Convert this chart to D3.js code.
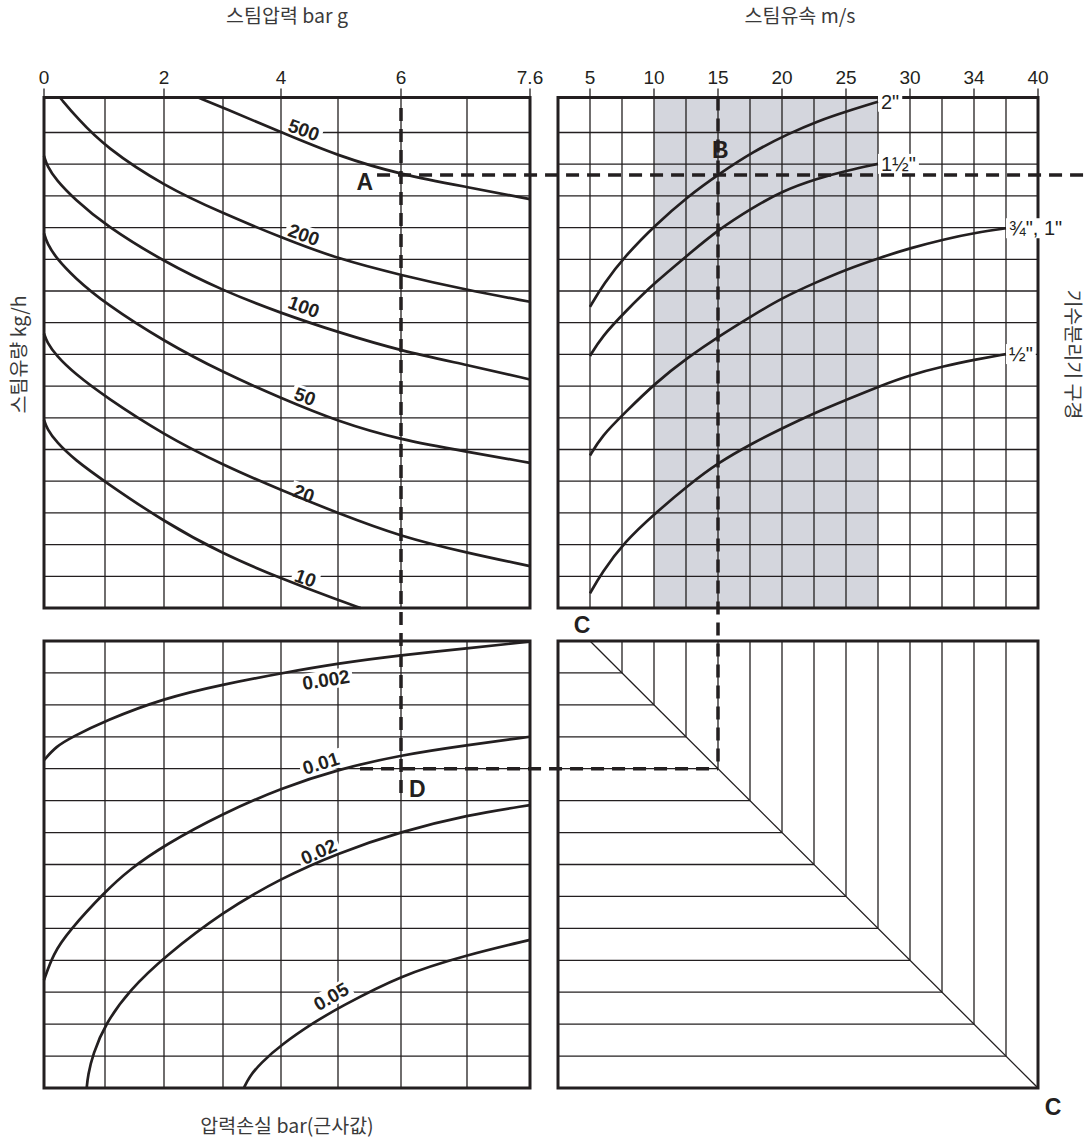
<!DOCTYPE html>
<html>
<head>
<meta charset="utf-8">
<script src="https://cdn.jsdelivr.net/npm/d3@7"></script>
<style>
  body { margin: 0; background: #fff; }
  svg { display: block; }
  text { font-family: "Liberation Sans", Arial, sans-serif; fill: #231f20; }
  .kr { font-family: "Noto Sans CJK KR", "Liberation Sans", sans-serif; fill: #3a3a3a; font-size: 19.5px; }
</style>
</head>
<body>
<div id="chart"></div>
<script>
// ---------------- data ----------------
// axis ticks
const pressureTicks = [0, 2, 4, 6, 7.6];          // bar g
const pressureGrid = [1, 2, 3, 4, 5, 6, 7];
const velocityTicks = [5, 10, 15, 20, 25, 30, 34, 40]; // m/s

// steam flow curves (kg/h): points are [pressure bar g, grid row from top]
const flowNames = ["500", "200", "100", "50", "20", "10"];
const flow500 = [[2.58, 0], [3, 0.29], [4, 0.99], [5, 1.74], [6, 2.33], [7, 2.72], [7.6, 3.1]];
const flow200 = [[0.26, 0], [0.55, 0.6], [1, 1.45], [2, 2.69], [3, 3.55], [4, 4.31], [5, 4.99], [6, 5.5], [7, 5.97], [7.6, 6.34]];
const flow100 = [[0, 1.74], [0.05, 2.05], [0.2, 2.5], [0.5, 3.1], [1, 3.92], [2, 5.08], [3, 5.99], [4, 6.7], [5, 7.3], [6, 7.89], [7, 8.33], [7.6, 8.79]];
const flow50 = [[0, 4.18], [0.05, 4.5], [0.2, 4.96], [0.5, 5.58], [1, 6.39], [2, 7.59], [3, 8.57], [4, 9.38], [5, 10.12], [6, 10.7], [7, 11.07], [7.6, 11.42]];
const flow20 = [[0, 7.34], [0.05, 7.62], [0.2, 8.04], [0.5, 8.6], [1, 9.33], [2, 10.54], [3, 11.49], [4, 12.28], [5, 13.01], [6, 13.75], [7, 14.26], [7.6, 14.68]];
const flow10 = [[0, 10.07], [0.05, 10.35], [0.2, 10.76], [0.5, 11.32], [1, 12.02], [2, 13.28], [3, 14.3], [4, 15.07], [5, 15.75], [5.36, 16]];
const flowCurves = [flow500, flow200, flow100, flow50, flow20, flow10];
const flowLabelAt = [[4.4, 0.93], [4.4, 4.23], [4.4, 6.5], [4.42, 9.33], [4.4, 12.39], [4.43, 15.06]];

// separator sizes: points are [velocity m/s, grid row from top]
const pipeNames = ['2"', '1½"', '¾", 1"', '½"'];
const pipe2 = [[5, 6.5], [6.05, 5.78], [7.8, 4.87], [10.1, 3.92], [12.7, 3.0], [15, 2.33], [17.75, 1.6], [20.5, 1.04], [22.75, 0.68], [25.1, 0.39], [27.5, 0.12]];
const pipe15 = [[5, 8.05], [5.9, 7.45], [7.8, 6.63], [10.1, 5.72], [12.7, 4.85], [15, 4.07], [17.75, 3.36], [20, 2.85], [22.75, 2.45], [25.1, 2.2], [27.5, 1.99]];
const pipe1 = [[5, 11.19], [5.9, 10.58], [7.7, 9.85], [10.1, 8.9], [12.7, 8.08], [15, 7.45], [17.75, 6.76], [20, 6.22], [22.75, 5.71], [25.1, 5.31], [27.5, 4.97], [30, 4.65], [32.1, 4.37], [34.2, 4.16], [37, 4.02]];
const pipeHalf = [[5, 15.54], [5.9, 14.9], [7.7, 13.91], [10.1, 13.01], [12.7, 12.12], [15, 11.42], [17.75, 10.79], [20, 10.33], [22.75, 9.81], [25.1, 9.42], [27.5, 9.02], [30, 8.65], [32.1, 8.37], [34.2, 8.16], [37, 7.99]];
const pipeCurves = [pipe2, pipe15, pipe1, pipeHalf];
const shadeVelocity = [10, 27.5];

// pressure drop curves (bar): points are [pressure bar g, grid row from top of lower panel]
const dropNames = ["0.002", "0.01", "0.02", "0.05"];
const drop002 = [[0, 3.73], [0.2, 3.3], [0.45, 3.02], [1, 2.5], [2, 1.79], [3, 1.36], [4, 1.01], [5, 0.7], [6, 0.44], [7, 0.23], [7.6, 0.02]];
const drop01 = [[0, 10.62], [0.15, 9.8], [0.4, 9.1], [1, 7.85], [1.42, 7.15], [2, 6.4], [3, 5.4], [4, 4.61], [5, 4.02], [6, 3.57], [7, 3.26], [7.6, 3.0]];
const drop02 = [[0.7, 14], [0.72, 13.6], [0.8, 12.95], [1, 12.0], [1.42, 10.93], [2, 9.9], [3, 8.48], [4, 7.43], [5, 6.64], [6, 5.97], [7, 5.45], [7.6, 5.14]];
const drop05 = [[3.36, 14], [3.45, 13.65], [3.65, 13.22], [4, 12.65], [4.6, 11.92], [5, 11.5], [6, 10.46], [7, 9.83], [7.6, 9.36]];
const dropCurves = [drop002, drop01, drop02, drop05];
const dropLabelAt = [[4.79, 1.22], [4.7, 3.83], [4.66, 6.6], [4.88, 11.14]];
const dropLabelAngle = [-9, -17, -24, -30];

// worked example: 6 bar g, 500 kg/h -> 2" at 15 m/s
const examplePressure = 6;
const exampleRow = 2.34;
const exampleVelocity = 15;
const exampleDropRow = 4;

// ---------------- chart ----------------
const W = 1087, H = 1140;
const svg = d3.select("#chart").append("svg").attr("width", W).attr("height", H);

const x = d3.scaleLinear().domain([0, 1, 2, 3, 4, 5, 6, 7, 7.6])
  .range([44, 105, 164, 223, 281, 338, 401, 467, 530]);
const velCol = d3.scaleLinear().domain([2.5, 5, 10, 15, 20, 25, 30, 34, 40])
  .range([0, 1, 3, 5, 7, 9, 11, 13, 15]);
const colX = d3.scaleLinear().domain([0, 15]).range([558, 1038]);
const xv = v => colX(velCol(v));
const yT = d3.scaleLinear().domain([0, 1, 16]).range([97.5, 132.5, 608]);
const yB = d3.scaleLinear().domain([0, 14]).range([641, 1088]);

const gShade = svg.append("g"),
  gGrid = svg.append("g"),
  gBorder = svg.append("g"),
  gBg = svg.append("g"),
  gCurve = svg.append("g"),
  gDash = svg.append("g"),
  gText = svg.append("g");

function drawSegs(layer, segs, width, dash) {
  layer.append("g").selectAll("line").data(segs).join("line")
    .attr("x1", d => d[0]).attr("y1", d => d[1])
    .attr("x2", d => d[2]).attr("y2", d => d[3])
    .attr("stroke", "#231f20")
    .attr("stroke-width", width)
    .attr("stroke-dasharray", dash || null);
}

// text with optional white knock-out behind it
function label(txt, px, py, angle, size, opts) {
  opts = opts || {};
  const tr = `translate(${px},${py}) rotate(${angle})`;
  const t = gText.append("text")
    .attr("transform", tr)
    .attr("text-anchor", opts.anchor || "middle")
    .attr("dominant-baseline", opts.baseline || "central")
    .style("font-size", size + "px")
    .style("font-weight", opts.weight || "normal")
    .text(txt);
  if (opts.knock) {
    const b = t.node().getBBox();
    gBg.append("rect").attr("transform", tr)
      .attr("x", b.x - 3).attr("y", b.y + 1)
      .attr("width", b.width + 6).attr("height", b.height - 2)
      .attr("fill", "#fff");
  }
  return t;
}

// shaded recommended velocity band
gShade.append("rect")
  .attr("x", xv(shadeVelocity[0])).attr("y", yT(0))
  .attr("width", xv(shadeVelocity[1]) - xv(shadeVelocity[0]))
  .attr("height", yT(16) - yT(0))
  .attr("fill", "#d4d6dd");

// grid
const grid = [];
pressureGrid.forEach(p => {
  grid.push([x(p), yT(0), x(p), yT(16)]);
  grid.push([x(p), yB(0), x(p), yB(14)]);
});
d3.range(1, 16).forEach(r => {
  grid.push([x(0), yT(r), x(7.6), yT(r)]);
  grid.push([colX(0), yT(r), colX(15), yT(r)]);
});
d3.range(1, 15).forEach(c => grid.push([colX(c), yT(0), colX(c), yT(16)]));
d3.range(1, 14).forEach(r => {
  grid.push([x(0), yB(r), x(7.6), yB(r)]);
  grid.push([colX(0), yB(r), colX(r + 1), yB(r)]);
});
d3.range(2, 15).forEach(c => grid.push([colX(c), yB(0), colX(c), yB(c - 1)]));
grid.push([colX(1), yB(0), colX(15), yB(14)]);
drawSegs(gGrid, grid, 1.3);

// ticks
const ticks = pressureTicks.map(p => [x(p), yT(0) - 9, x(p), yT(0)])
  .concat(velocityTicks.map(v => [xv(v), yT(0) - 9, xv(v), yT(0)]));
drawSegs(gGrid, ticks, 1.3);

// panel borders
const panels = [
  [x(0), yT(0), x(7.6), yT(16)],
  [colX(0), yT(0), colX(15), yT(16)],
  [x(0), yB(0), x(7.6), yB(14)],
  [colX(0), yB(0), colX(15), yB(14)]
];
gBorder.selectAll("rect").data(panels).join("rect")
  .attr("x", d => d[0]).attr("y", d => d[1])
  .attr("width", d => d[2] - d[0]).attr("height", d => d[3] - d[1])
  .attr("fill", "none").attr("stroke", "#231f20").attr("stroke-width", 3);

// curves
const smooth = d3.curveBasis;
const lineTop = d3.line().x(d => x(d[0])).y(d => yT(d[1])).curve(smooth);
const linePipe = d3.line().x(d => xv(d[0])).y(d => yT(d[1])).curve(smooth);
const lineBot = d3.line().x(d => x(d[0])).y(d => yB(d[1])).curve(smooth);

function drawCurves(data, gen) {
  gCurve.append("g").selectAll("path").data(data).join("path")
    .attr("d", gen).attr("fill", "none")
    .attr("stroke", "#231f20").attr("stroke-width", 2.7);
}
drawCurves(flowCurves, lineTop);
drawCurves(pipeCurves, linePipe);
drawCurves(dropCurves, lineBot);

// curve labels
flowNames.forEach((n, i) => {
  const a = flowLabelAt[i];
  label(n, x(a[0]), yT(a[1]), 20, 19, { weight: "bold", knock: true });
});
dropNames.forEach((n, i) => {
  const a = dropLabelAt[i];
  label(n, x(a[0]), yB(a[1]), dropLabelAngle[i], 19, { weight: "bold", knock: true });
});
pipeNames.forEach((n, i) => {
  const end = pipeCurves[i][pipeCurves[i].length - 1];
  label(n, xv(end[0]) + 3, yT(end[1]), 0, 20, { anchor: "start", knock: true });
});

// dashed construction lines
const dashes = [
  [x(examplePressure), yT(0.3), x(examplePressure), yB(5)],
  [x(5.62), yT(exampleRow), W, yT(exampleRow)],
  [xv(exampleVelocity), yT(0), xv(exampleVelocity), yB(exampleDropRow)],
  [x(5.35), yB(exampleDropRow), xv(exampleVelocity), yB(exampleDropRow)]
];
drawSegs(gDash, dashes, 3.5, "13,8");

// point letters
const letter = { weight: "bold", baseline: "auto" };
label("A", x(examplePressure) - 28, yT(exampleRow) + 15, 0, 23, Object.assign({ anchor: "end" }, letter));
label("B", xv(exampleVelocity) - 6, yT(exampleRow) - 17, 0, 23, Object.assign({ anchor: "start" }, letter));
label("D", x(examplePressure) + 8, yB(exampleDropRow) + 28, 0, 23, Object.assign({ anchor: "start" }, letter));
label("C", colX(1) - 8, yB(0) - 8, 0, 23, letter);
label("C", colX(15) + 15, yB(14) + 27, 0, 23, letter);

// tick labels
pressureTicks.forEach(p => label(String(p), x(p), yT(0) - 14, 0, 19, { baseline: "auto" }));
velocityTicks.forEach(v => label(String(v), xv(v), yT(0) - 14, 0, 19, { baseline: "auto" }));

// axis titles
gText.append("text").attr("class", "kr").attr("x", (x(0) + x(7.6)) / 2).attr("y", 23)
  .attr("text-anchor", "middle").text("스팀압력 bar g");
gText.append("text").attr("class", "kr").attr("x", xv(20) + 18).attr("y", 23)
  .attr("text-anchor", "middle").text("스팀유속 m/s");
gText.append("text").attr("class", "kr")
  .attr("transform", `translate(17,${yT(8)}) rotate(-90)`)
  .attr("text-anchor", "middle").attr("dominant-baseline", "central").text("스팀유량 kg/h");
gText.append("text").attr("class", "kr")
  .attr("transform", `translate(1074,${yT(8)}) rotate(90)`)
  .attr("text-anchor", "middle").attr("dominant-baseline", "central").text("기수분리기 구경");
gText.append("text").attr("class", "kr").attr("x", (x(0) + x(7.6)) / 2).attr("y", 1133)
  .attr("text-anchor", "middle").text("압력손실 bar(근사값)");
</script>
</body>
</html>
